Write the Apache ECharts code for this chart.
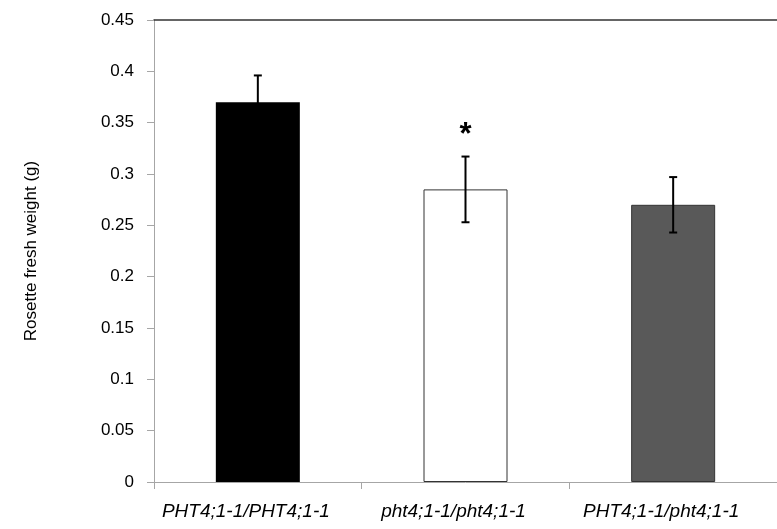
<!DOCTYPE html>
<html>
<head>
<meta charset="utf-8">
<script src="https://cdn.jsdelivr.net/npm/echarts@6/dist/echarts.min.js"></script>
<style>
  html, body { margin: 0; padding: 0; background: #fff; }
  #main { width: 777px; height: 529px; }
</style>
</head>
<body>
<div id="main"></div>
<script>
// genotypes on the x axis
const categories = ['PHT4;1-1/PHT4;1-1', 'pht4;1-1/pht4;1-1', 'PHT4;1-1/pht4;1-1'];
// mean rosette fresh weight (g)
const meanWeight = [0.37, 0.285, 0.27];
// error bar half-length (g)
const errWeight = [0.026, 0.032, 0.027];
// significance mark above the error bar
const marks = ['', '*', ''];
const yTicks = { min: 0, max: 0.45, interval: 0.05 };

const barColors = ['#000000', '#ffffff', '#595959'];

const chart = echarts.init(document.getElementById('main'));

const errData = meanWeight.map((v, i) => [i, v - errWeight[i], v + errWeight[i], marks[i]]);

const option = {
  animation: false,
  backgroundColor: '#fff',
  textStyle: { fontFamily: 'Liberation Sans, Arial, sans-serif' },
  grid: { left: 154, top: 20, right: -6, bottom: 47 },
  xAxis: [{
    type: 'category',
    data: categories,
    axisLine: { lineStyle: { color: '#a6a6a6', width: 1 } },
    axisTick: { show: true, interval: 0, length: 7, lineStyle: { color: '#a6a6a6' } },
    axisLabel: {
      color: '#000', fontSize: 19, fontStyle: 'italic', margin: 20,
      interval: 0, hideOverlap: false, padding: [0, 24, 0, 0]
    }
  }, {
    // top frame line
    type: 'category',
    data: categories,
    position: 'top',
    axisLine: { lineStyle: { color: '#333', width: 1.5 } },
    axisTick: { show: false },
    axisLabel: { show: false }
  }],
  yAxis: {
    type: 'value',
    min: yTicks.min,
    max: yTicks.max,
    interval: yTicks.interval,
    name: 'Rosette fresh weight (g)',
    nameLocation: 'middle',
    nameGap: 114,
    nameTextStyle: { color: '#000', fontSize: 17 },
    splitLine: { show: false },
    axisLine: { show: true, lineStyle: { color: '#a6a6a6', width: 1 } },
    axisTick: { show: true, length: 7, lineStyle: { color: '#a6a6a6' } },
    axisLabel: { color: '#000', fontSize: 17, margin: 20 }
  },
  series: [{
    type: 'bar',
    barWidth: 84,
    data: meanWeight.map((v, i) => ({
      value: v,
      itemStyle: { color: barColors[i], borderColor: '#333', borderWidth: i === 0 ? 0 : 1 }
    }))
  }, {
    type: 'custom',
    data: errData,
    z: 10,
    renderItem: function (params, api) {
      const x = api.value(0);
      const lo = api.coord([x, api.value(1)]);
      const hi = api.coord([x, api.value(2)]);
      const cap = 4;
      const style = { stroke: '#000', lineWidth: 2 };
      const children = [
        { type: 'line', shape: { x1: hi[0], y1: hi[1], x2: lo[0], y2: lo[1] }, style: style },
        { type: 'line', shape: { x1: hi[0] - cap, y1: hi[1], x2: hi[0] + cap, y2: hi[1] }, style: style },
        { type: 'line', shape: { x1: lo[0] - cap, y1: lo[1], x2: lo[0] + cap, y2: lo[1] }, style: style }
      ];
      const mark = errData[params.dataIndex][3];
      if (mark) {
        children.push({
          type: 'text',
          style: {
            text: mark, x: hi[0], y: hi[1] - 21,
            fill: '#000', font: 'bold 31px Liberation Sans, Arial, sans-serif',
            align: 'center', verticalAlign: 'middle'
          }
        });
      }
      return { type: 'group', children: children };
    }
  }]
};

chart.setOption(option);
</script>
</body>
</html>
